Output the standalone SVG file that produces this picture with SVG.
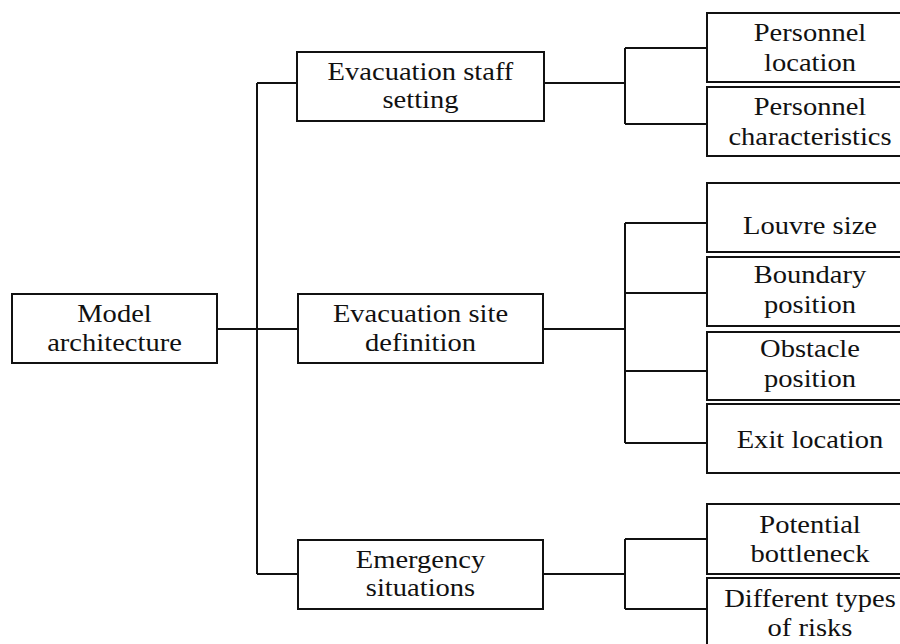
<svg xmlns="http://www.w3.org/2000/svg" width="900" height="644" viewBox="0 0 900 644">
<style>
.box{fill:#fff;stroke:#111;stroke-width:2}
.ln{fill:none;stroke:#111;stroke-width:2}
text{font-family:"Liberation Serif","Times New Roman",serif;font-size:25.5px;fill:#111;text-anchor:middle}
</style>
<rect width="900" height="644" fill="#fff"/>
<g id="connectors" class="ln">
<path d="M217 329H298M257 83V574M257 83H297M257 574H298"/>
<path d="M544 83H625M625 48V124M625 48H707M625 124H707"/>
<path d="M543 329H625M625 223V443M625 223H707M625 293H707M625 371H707M625 443H707"/>
<path d="M543 574H625M625 539V609M625 539H707M625 609H707"/>
</g>
<g id="model-architecture">
<rect class="box" x="12" y="294" width="205" height="69"/>
<g transform="translate(114.5 0) scale(1.12 1)"><text x="0" y="322">Model</text><text x="0" y="351">architecture</text></g>
</g>
<g id="evacuation-staff-setting">
<rect class="box" x="297" y="52" width="247" height="69"/>
<g transform="translate(420.5 0) scale(1.12 1)"><text x="0" y="80">Evacuation staff</text><text x="0" y="108">setting</text></g>
</g>
<g id="evacuation-site-definition">
<rect class="box" x="298" y="294" width="245" height="69"/>
<g transform="translate(420.5 0) scale(1.12 1)"><text x="0" y="322">Evacuation site</text><text x="0" y="351">definition</text></g>
</g>
<g id="emergency-situations">
<rect class="box" x="298" y="540" width="245" height="69"/>
<g transform="translate(420.5 0) scale(1.12 1)"><text x="0" y="568">Emergency</text><text x="0" y="596">situations</text></g>
</g>
<g id="personnel-location">
<rect class="box" x="707" y="13" width="210" height="69"/>
<g transform="translate(810 0) scale(1.12 1)"><text x="0" y="41">Personnel</text><text x="0" y="71">location</text></g>
</g>
<g id="personnel-characteristics">
<rect class="box" x="707" y="87" width="210" height="69"/>
<g transform="translate(810 0) scale(1.12 1)"><text x="0" y="115">Personnel</text><text x="0" y="145">characteristics</text></g>
</g>
<g id="louvre-size">
<rect class="box" x="707" y="183" width="210" height="69"/>
<g transform="translate(810 0) scale(1.12 1)"><text x="0" y="234">Louvre size</text></g>
</g>
<g id="boundary-position">
<rect class="box" x="707" y="257" width="210" height="69"/>
<g transform="translate(810 0) scale(1.12 1)"><text x="0" y="283">Boundary</text><text x="0" y="313">position</text></g>
</g>
<g id="obstacle-position">
<rect class="box" x="707" y="332" width="210" height="68"/>
<g transform="translate(810 0) scale(1.12 1)"><text x="0" y="357">Obstacle</text><text x="0" y="387">position</text></g>
</g>
<g id="exit-location">
<rect class="box" x="707" y="404" width="210" height="69"/>
<g transform="translate(810 0) scale(1.12 1)"><text x="0" y="448">Exit location</text></g>
</g>
<g id="potential-bottleneck">
<rect class="box" x="707" y="504" width="210" height="70"/>
<g transform="translate(810 0) scale(1.12 1)"><text x="0" y="533">Potential</text><text x="0" y="562">bottleneck</text></g>
</g>
<g id="different-types-of-risks">
<rect class="box" x="707" y="578" width="210" height="70"/>
<g transform="translate(810 0) scale(1.12 1)"><text x="0" y="607">Different types</text><text x="0" y="636">of risks</text></g>
</g>
</svg>
